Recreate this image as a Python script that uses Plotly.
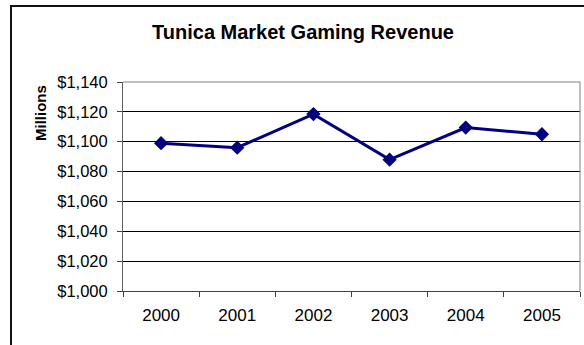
import plotly.graph_objects as go

years = ["2000", "2001", "2002", "2003", "2004", "2005"]
revenue = [1099, 1096, 1118.5, 1088, 1109.5, 1105]
y_ticks = [1000, 1020, 1040, 1060, 1080, 1100, 1120, 1140]
y_tick_labels = ["$1,000", "$1,020", "$1,040", "$1,060", "$1,080", "$1,100", "$1,120", "$1,140"]

W, H = 584, 345
L, R, T, B = 123, 4, 82, 54
pw, ph = W - L - R, H - T - B

fig = go.Figure()
fig.add_trace(go.Scatter(
    x=years, y=revenue, mode="lines+markers",
    line=dict(color="#000080", width=3),
    marker=dict(symbol="diamond", size=11, color="#000080"),
    showlegend=False,
))

font = "Liberation Sans, Arial, sans-serif"
fig.update_layout(
    width=W, height=H,
    margin=dict(l=L, r=R, t=T, b=B),
    paper_bgcolor="white", plot_bgcolor="white",
    font=dict(family=font, size=16, color="black"),
    title=dict(text="<b>Tunica Market Gaming Revenue</b>", x=303 / W, xanchor="center",
               y=1 - 32 / H, yanchor="middle", yref="container",
               font=dict(family=font, size=20, color="black")),
    xaxis=dict(type="category", range=[-0.5, 5.5], tickson="boundaries",
               ticks="outside", ticklen=5, tickcolor="#404040",
               showline=True, linecolor="#404040", linewidth=1,
               tickfont=dict(size=17), ticklabelstandoff=9,
               showgrid=False, zeroline=False, fixedrange=True),
    yaxis=dict(range=[1000, 1140], tickvals=y_ticks, ticktext=y_tick_labels,
               ticks="outside", ticklen=5, tickcolor="#404040",
               showline=True, linecolor="#606060", linewidth=1,
               tickfont=dict(size=16.5), ticklabelstandoff=6,
               showgrid=True, gridcolor="black", gridwidth=1,
               zeroline=False, fixedrange=True),
    shapes=[
        dict(type="line", xref="paper", yref="paper", x0=1, x1=1, y0=0, y1=1,
             line=dict(color="#808080", width=1)),
        dict(type="line", xref="paper", yref="paper", x0=0, x1=1, y0=1, y1=1,
             line=dict(color="#808080", width=1)),
        dict(type="rect", xref="paper", yref="paper",
             x0=(11 - L) / pw, x1=1.2, y0=-0.6, y1=(H - B - 6) / ph,
             line=dict(color="#111111", width=2), layer="below"),
    ],
    annotations=[
        dict(text="<b>Millions</b>", textangle=-90, xref="paper", yref="paper",
             x=(40 - L) / pw, y=(H - B - 113) / ph, xanchor="center", yanchor="middle",
             showarrow=False, font=dict(family=font, size=15, color="black")),
    ],
)

fig.write_html("out.html")
